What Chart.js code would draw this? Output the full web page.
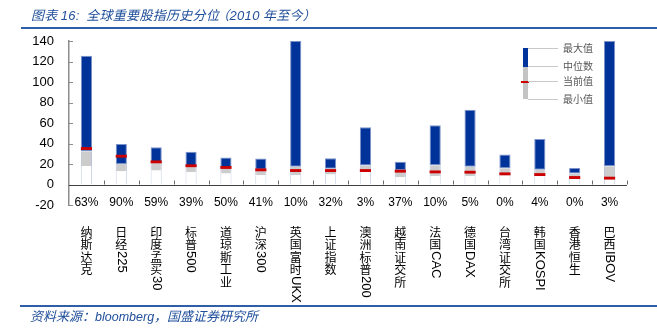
<!DOCTYPE html>
<html>
<head>
<meta charset="utf-8">
<script src="https://cdn.jsdelivr.net/npm/chart.js@4.4.1/dist/chart.umd.min.js"></script>
<style>
  html, body { margin: 0; padding: 0; background: #fff; }
  #wrap { position: relative; width: 657px; height: 332px; overflow: hidden; }
  #chart-box { position: absolute; left: 0; top: 0; width: 657px; height: 332px; }
  .title {
    position: absolute; left: 31px; top: 5px;
    font: italic 13px "Noto Sans CJK SC", "Liberation Sans", sans-serif;
    color: #1f4e9a; white-space: nowrap; letter-spacing: 0.3px;
  }
  .title .lat { font-family: "Liberation Sans", sans-serif; }
  .rule { position: absolute; left: 21px; right: 0; height: 2px; background: #2f5ea8; }
  .source {
    position: absolute; left: 30px; top: 306px;
    font: italic 13px "Noto Sans CJK SC", "Liberation Sans", sans-serif;
    color: #1f4e9a; white-space: nowrap;
  }
  .source .lat { font-family: "Liberation Sans", sans-serif; font-size: 12.5px; }
</style>
</head>
<body>
<div id="wrap">
  <div id="chart-box"><canvas id="chart-pct"></canvas></div>
  <div class="title">图表 <span class="lat">16:</span>&nbsp; 全球重要股指历史分位<span style="margin-left:-3px">（</span><span class="lat">2010</span> 年至今）</div>
  <div class="rule" style="top:27px"></div>
  <div class="rule" style="top:305px; left:20px; height:1.5px"></div>
  <div class="source">资料来源：<span class="lat">bloomberg</span>，国盛证券研究所</div>
</div>
<script>
// Index names (x categories) and the current percentile row
const CATEGORIES = ['纳斯达克', '日经225', '印度孟买30', '标普500', '道琼斯工业', '沪深300', '英国富时UKX', '上证指数',
  '澳洲标普200', '越南证交所', '法国CAC', '德国DAX', '台湾证交所', '韩国KOSPI', '香港恒生', '巴西IBOV'];
const PERCENTILES = ['63%', '90%', '59%', '39%', '50%', '41%', '10%', '32%', '3%', '37%', '10%', '5%', '0%', '4%', '0%', '3%'];

// Valuation stats since 2010
const MAX_VALS    = [125.5, 39.6, 36.4, 32.0, 26.3, 25.3, 140, 25.7, 55.9, 22.1, 57.8, 73.0, 29.2, 44.5, 16.2, 140];
const MEDIAN_VALS = [32.5, 20.0, 21.0, 17.5, 15.5, 14.5, 17.2, 15.3, 18.5, 13.8, 18.8, 17.2, 15.9, 14.3, 10.7, 17.9];
const CURRENT_VALS = [35.1, 27.6, 22.1, 18.3, 16.6, 14.3, 13.6, 13.6, 13.6, 13.0, 12.3, 12.0, 10.4, 9.7, 6.8, 6.2];
const MIN_VALS    = [18.0, 13.0, 13.6, 12.0, 10.7, 9.1, 9.1, 9.7, 12.0, 7.1, 8.4, 8.1, 8.8, 8.1, 5.5, 4.9];

const Y_MIN = -20, Y_MAX = 140, Y_STEP = 20;

const COLORS = {
  blue: '#003399',
  blueEdge: '#7d92c9',
  gray: '#cccccc',
  grayEdge: '#bcc4d8',
  whiteEdge: '#cfd6e8',
  red: '#cc0000',
  axis: '#8c8c8c',
  text: '#000000',
};

const LATIN_FONT = '"Liberation Sans", Arial, sans-serif';
const CJK_FONT = '"Noto Sans CJK SC", "Noto Sans", sans-serif';

// Floating bar segments: [low, high]
const whiteSeg = MIN_VALS.map(v => [0, v]);
const graySeg = MIN_VALS.map((v, i) => [v, MEDIAN_VALS[i]]);
const blueSeg = MEDIAN_VALS.map((v, i) => [v, MAX_VALS[i]]);
const redSeg = CURRENT_VALS.map(v => [v - 1.4, v + 1.4]);

// Draws axis details, the percentile row, vertical labels and the key
const decorPlugin = {
  id: 'decor',
  afterDatasetsDraw(chart) {
    const { ctx, chartArea } = chart;
    const x = chart.scales.x;
    const y = chart.scales.y;
    const y0 = y.getPixelForValue(0);
    ctx.save();

    // y ticks pointing into the plot
    ctx.strokeStyle = COLORS.axis;
    ctx.lineWidth = 1;
    for (let v = Y_MIN; v <= Y_MAX; v += Y_STEP) {
      const py = Math.round(y.getPixelForValue(v)) + 0.5;
      ctx.beginPath();
      ctx.moveTo(chartArea.left, py);
      ctx.lineTo(chartArea.left + 4, py);
      ctx.stroke();
    }

    // x axis at zero with ticks at category edges
    const half = (x.getPixelForValue(1) - x.getPixelForValue(0)) / 2;
    ctx.strokeStyle = '#404040';
    ctx.beginPath();
    ctx.moveTo(chartArea.left, Math.round(y0) + 0.5);
    ctx.lineTo(chartArea.right, Math.round(y0) + 0.5);
    ctx.stroke();
    ctx.strokeStyle = '#6a6a6a';
    for (let i = 0; i < CATEGORIES.length; i++) {
      const px = Math.round(x.getPixelForValue(i) + half) + 0.5;
      ctx.beginPath();
      ctx.moveTo(px, y0);
      ctx.lineTo(px, y0 - 4);
      ctx.stroke();
    }

    // percentile row
    ctx.fillStyle = COLORS.text;
    ctx.font = '12px ' + LATIN_FONT;
    ctx.textAlign = 'center';
    ctx.textBaseline = 'middle';
    PERCENTILES.forEach((p, i) => ctx.fillText(p, x.getPixelForValue(i), 203));

    // vertical category labels: CJK upright, latin rotated
    CATEGORIES.forEach((name, i) => {
      const cx = x.getPixelForValue(i);
      let top = 226;
      const runs = name.match(/[\x00-\x7f]+|[^\x00-\x7f]/g);
      runs.forEach(run => {
        if (/^[\x00-\x7f]+$/.test(run)) {
          ctx.font = '13px ' + LATIN_FONT;
          const w = ctx.measureText(run).width;
          ctx.save();
          ctx.translate(cx, top);
          ctx.rotate(Math.PI / 2);
          ctx.textAlign = 'left';
          ctx.textBaseline = 'middle';
          ctx.fillText(run, 0, 0);
          ctx.restore();
          top += w;
        } else {
          ctx.font = '12px ' + CJK_FONT;
          ctx.textAlign = 'center';
          ctx.textBaseline = 'middle';
          ctx.fillText(run, cx, top + 6);
          top += 12.5;
        }
      });
    });

    // key in the upper right
    ctx.fillStyle = COLORS.blue;
    ctx.fillRect(523, 48, 5, 19);
    ctx.fillStyle = '#c4c4c4';
    ctx.fillRect(523, 67, 5, 32);
    ctx.fillStyle = COLORS.red;
    ctx.fillRect(521, 81, 8, 2);
    ctx.strokeStyle = '#c8c8c8';
    const keys = [['最大值', 48.5], ['中位数', 66.5], ['当前值', 81.5], ['最小值', 99.5]];
    ctx.font = '10px ' + CJK_FONT;
    ctx.textAlign = 'left';
    ctx.textBaseline = 'middle';
    keys.forEach(([label, ky]) => {
      ctx.beginPath();
      ctx.moveTo(528, ky);
      ctx.lineTo(558, ky);
      ctx.stroke();
      ctx.fillStyle = '#555555';
      ctx.fillText(label, 563, ky);
    });

    ctx.restore();
  },
};

function buildChart() {
  const ctx = document.getElementById('chart-pct').getContext('2d');
  const barOpts = { barPercentage: 0.32, categoryPercentage: 1 };

  new Chart(ctx, {
    type: 'bar',
    data: {
      labels: CATEGORIES,
      datasets: [
        { label: '当前值', data: redSeg, backgroundColor: COLORS.red, borderWidth: 0, ...barOpts },
        { label: '最大值', data: blueSeg, backgroundColor: COLORS.blue, borderColor: COLORS.blueEdge,
          borderWidth: 1, borderSkipped: false, ...barOpts },
        { label: '中位数', data: graySeg, backgroundColor: COLORS.gray, borderColor: COLORS.grayEdge,
          borderWidth: { left: 1, right: 1 }, borderSkipped: false, ...barOpts },
        { label: '最小值', data: whiteSeg, backgroundColor: '#ffffff', borderColor: COLORS.whiteEdge,
          borderWidth: { left: 1, right: 1 }, borderSkipped: false, ...barOpts },
      ],
    },
    options: {
      responsive: true,
      maintainAspectRatio: false,
      animation: false,
      layout: { padding: { left: 0, top: 41, right: 30, bottom: 127 } },
      plugins: {
        legend: { display: false },
        tooltip: { enabled: false },
      },
      scales: {
        x: {
          stacked: true,
          display: false,
        },
        y: {
          min: Y_MIN,
          max: Y_MAX,
          afterFit: scale => { scale.width = 69; },
          ticks: {
            stepSize: Y_STEP,
            color: COLORS.text,
            font: { family: LATIN_FONT, size: 13 },
            padding: 15,
          },
          grid: { display: false, drawTicks: false },
          border: { display: true, color: COLORS.axis, width: 1.5 },
        },
      },
    },
    plugins: [decorPlugin],
  });
}

document.addEventListener('DOMContentLoaded', buildChart);
</script>
</body>
</html>
